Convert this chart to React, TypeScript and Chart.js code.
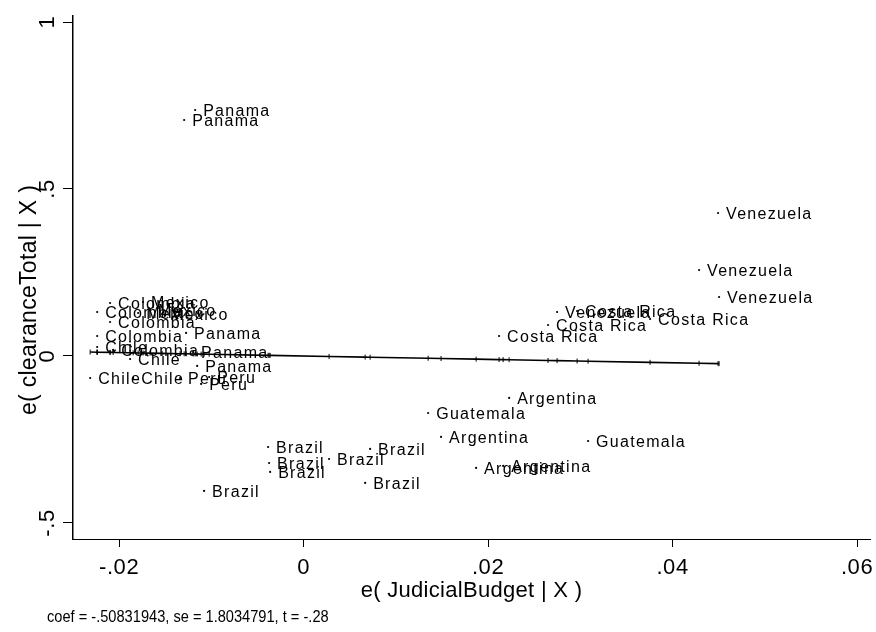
import React, { useEffect, useRef } from "react";
import { Chart, registerables } from "chart.js";

Chart.register(...registerables);

// ---- data ----
const countries = [
  "Panama", "Panama", "Panama", "Panama", "Panama",
  "Colombia", "Colombia", "Colombia", "Colombia", "Colombia",
  "Mexico", "Mexico", "Mexico", "Mexico",
  "Chile", "Chile", "Chile", "Chile",
  "Peru", "Peru", "Peru",
  "Brazil", "Brazil", "Brazil", "Brazil", "Brazil", "Brazil", "Brazil",
  "Argentina", "Argentina", "Argentina", "Argentina",
  "Guatemala", "Guatemala",
  "Costa Rica", "Costa Rica", "Costa Rica", "Costa Rica",
  "Venezuela", "Venezuela", "Venezuela", "Venezuela",
];

const judicialBudgetResid = [
  -0.01176, -0.01295, -0.01274, -0.01198, -0.01154,
  -0.02098, -0.02238, -0.02098, -0.02238, -0.02065,
  -0.0174, -0.01794, -0.01534, -0.01665,
  -0.02238, -0.01881, -0.02314, -0.01848,
  -0.01339, -0.01024, -0.01111,
  -0.00385, -0.00374, -0.00363, 0.00276, 0.00721, 0.00667, -0.01079,
  0.02228, 0.0149, 0.0187, 0.02163,
  0.0135, 0.03084,
  0.02965, 0.0265, 0.02119, 0.03756,
  0.02748, 0.04493, 0.04287, 0.04504,
];

const clearanceResid = [
  0.7365, 0.7066, 0.0689, 0.012, -0.0299,
  0.1587, 0.1317, 0.1018, 0.0599, 0.018,
  0.1617, 0.1287, 0.1257, 0.1377,
  0.0269, -0.009, -0.0659, -0.0659,
  -0.0659, -0.0629, -0.0838,
  -0.2725, -0.3204, -0.3473, -0.3084, -0.2784, -0.3802, -0.4042,
  -0.1257, -0.2425, -0.3353, -0.3293,
  -0.1707, -0.2545,
  0.1347, 0.0928, 0.0599, 0.1108,
  0.1317, 0.4281, 0.2575, 0.1766,
];

const coef = -0.50831943;

const xTickValues = [-0.02, 0, 0.02, 0.04, 0.06];
const xTickLabels = ["-.02", "0", ".02", ".04", ".06"];
const yTickValues = [-0.5, 0, 0.5, 1];
const yTickLabels = ["-.5", "0", ".5", "1"];

const xTitle = "e( JudicialBudget | X )";
const yTitle = "e( clearanceTotal | X )";
const noteText = "coef = -.50831943, se = 1.8034791, t = -.28";

const FONT = "'Liberation Sans', Arial, sans-serif";

export default function App() {
  const canvasRef = useRef<HTMLCanvasElement | null>(null);

  useEffect(() => {
    const canvas = canvasRef.current;
    if (!canvas) return;

    const points = judicialBudgetResid.map((x, i) => ({ x, y: clearanceResid[i] }));
    const fitXs = [...judicialBudgetResid].sort((a, b) => a - b);
    const fitData = fitXs.map((x) => ({ x, y: coef * x }));

    const textPlugin = {
      id: "stataText",
      afterDatasetsDraw(chart: any) {
        const ctx = chart.ctx as CanvasRenderingContext2D;
        const xs = chart.scales.x;
        const ys = chart.scales.y;
        ctx.save();
        ctx.fillStyle = "#000";

        // marker labels
        const meta = chart.getDatasetMeta(1);
        ctx.font = `16px ${FONT}`;
        (ctx as any).letterSpacing = "1.3px";
        ctx.textAlign = "left";
        ctx.textBaseline = "alphabetic";
        meta.data.forEach((el: any, i: number) => {
          ctx.fillText(countries[i], el.x + 8, el.y + 5.7);
        });

        // x tick labels
        ctx.font = `22px ${FONT}`;
        (ctx as any).letterSpacing = "0.6px";
        ctx.textAlign = "center";
        xTickValues.forEach((v, i) => {
          ctx.fillText(xTickLabels[i], xs.getPixelForValue(v), 574);
        });

        // y tick labels (rotated)
        yTickValues.forEach((v, i) => {
          ctx.save();
          ctx.translate(54, ys.getPixelForValue(v));
          ctx.rotate(-Math.PI / 2);
          ctx.fillText(yTickLabels[i], 0, 0);
          ctx.restore();
        });

        // axis titles
        (ctx as any).letterSpacing = "0.3px";
        ctx.fillText(xTitle, (chart.chartArea.left + chart.chartArea.right) / 2, 597);
        ctx.save();
        ctx.translate(36, 300);
        ctx.rotate(-Math.PI / 2);
        ctx.font = `23px ${FONT}`;
        ctx.fillText(yTitle, 0, 0);
        ctx.restore();

        // note (condensed like the original)
        ctx.save();
        ctx.font = `17px ${FONT}`;
        (ctx as any).letterSpacing = "0px";
        ctx.textAlign = "left";
        ctx.translate(47, 622);
        ctx.scale(0.86, 1);
        ctx.fillText(noteText, 0, 0);
        ctx.restore();

        ctx.restore();
      },
    };

    const chart = new Chart(canvas, {
      type: "scatter",
      data: {
        datasets: [
          {
            type: "line",
            data: fitData,
            borderColor: "#000",
            borderWidth: 1.6,
            pointStyle: "line",
            rotation: 90,
            pointRadius: 2.5,
            pointBorderWidth: 1,
            pointBorderColor: "#000",
            pointBackgroundColor: "#000",
            fill: false,
            tension: 0,
          } as any,
          {
            type: "scatter",
            data: points,
            pointRadius: 1.1,
            pointBackgroundColor: "#000",
            pointBorderWidth: 0,
          } as any,
        ],
      },
      options: {
        animation: false,
        responsive: false,
        maintainAspectRatio: false,
        layout: { padding: { left: 0, right: 6, top: 16, bottom: 0 } },
        plugins: {
          legend: { display: false },
          tooltip: { enabled: false },
        },
        scales: {
          x: {
            type: "linear",
            min: -0.025,
            max: 0.0614,
            afterBuildTicks: (s: any) => {
              s.ticks = xTickValues.map((v) => ({ value: v }));
            },
            afterFit: (s: any) => {
              s.height = 632 - 539;
            },
            ticks: { display: false },
            grid: { drawOnChartArea: false, drawTicks: true, tickLength: 8, color: "#000" },
            border: { display: true, color: "#000", width: 1 },
          },
          y: {
            type: "linear",
            min: -0.548,
            max: 1.018,
            afterBuildTicks: (s: any) => {
              s.ticks = yTickValues.map((v) => ({ value: v }));
            },
            afterFit: (s: any) => {
              s.width = 73;
            },
            ticks: { display: false },
            grid: { drawOnChartArea: false, drawTicks: true, tickLength: 10, color: "#000" },
            border: { display: true, color: "#000", width: 1.5 },
          },
        },
      } as any,
      plugins: [textPlugin],
    });

    return () => {
      chart.destroy();
    };
  }, []);

  return (
    <div style={{ position: "absolute", left: 0, top: 0, width: 876, height: 632, background: "#fff" }}>
      <canvas ref={canvasRef} width={876} height={632} style={{ width: 876, height: 632, display: "block" }} />
    </div>
  );
}
